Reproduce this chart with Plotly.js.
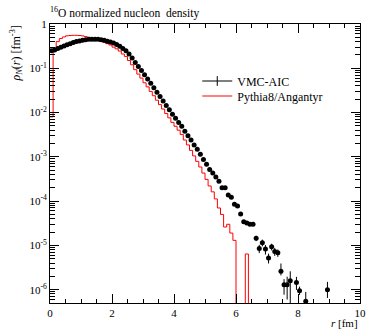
<!DOCTYPE html>
<html>
<head>
<meta charset="utf-8">
<script src="https://cdn.plot.ly/plotly-3.0.1.min.js"></script>
<style>html,body{margin:0;padding:0;background:#fff;}#plot{width:366px;height:331px;}</style>
</head>
<body>
<div id="plot"></div>
<script>
// VMC-AIC points: radius (fm), density (fm^-3), asymmetric errors
const rVMC = [0.05,0.15,0.25,0.35,0.45,0.55,0.65,0.75,0.85,0.95,
  1.05,1.15,1.25,1.35,1.45,1.55,1.65,1.75,1.85,1.95,
  2.05,2.15,2.25,2.35,2.45,2.55,2.65,2.75,2.85,2.95,
  3.05,3.15,3.25,3.35,3.45,3.55,3.65,3.75,3.85,3.95,
  4.05,4.15,4.25,4.35,4.45,4.55,4.65,4.75,4.85,4.95,
  5.05,5.15,5.25,5.35,5.45,5.55,5.65,5.75,5.85,5.95,
  6.05,6.15,6.25,6.35,6.45,6.55,6.65,6.75,6.85,6.95,
  7.05,7.15,7.25,7.35,7.45,7.55,7.65,7.75,7.95,8.05,8.25,8.95];
const rhoVMC = [0.25,0.26,0.28,0.30,0.32,0.34,0.36,0.38,0.40,0.415,
  0.43,0.44,0.45,0.455,0.455,0.45,0.44,0.43,0.41,0.39,
  0.37,0.345,0.315,0.28,0.25,0.21,0.17,0.135,0.11,0.089,
  0.071,0.0575,0.0457,0.0363,0.0288,0.0229,0.0182,0.0145,0.0115,0.0091,
  0.0074,0.0060,0.0049,0.0038,0.0030,0.0024,0.00186,0.00148,0.00115,0.00087,
  0.00068,0.00052,0.00043,0.00035,0.00028,0.00020,0.00020,0.000138,0.000123,0.000085,
  0.000078,0.000051,0.000034,0.000032,0.000030,0.000030,1.45e-5,8.5e-6,1.15e-5,8.3e-6,
  5.2e-6,9.3e-6,7.3e-6,6.8e-6,2.6e-6,1.3e-6,1.3e-6,1.6e-6,1.45e-6,9.5e-7,5.5e-7,1.0e-6];
const errUpVMC = [0,0,0,0,0,0,0,0,0,0, 0,0,0,0,0,0,0,0,0,0, 0,0,0,0,0,0,0,0,0,0,
  0,0,0,0,0,0,0,0,0,0, 0,0,0,0,0,0,0,0,0,0, 0,0,0,0,0,0,0,0,0,0,
  0,0,1e-6,1e-6,1e-6,1e-6,2e-6,1.8e-6,2e-6,1.9e-6,
  1.3e-6,1.6e-6,1.5e-6,1.3e-6,1.3e-6,0.43e-6,0.66e-6,1.0e-6,0.5e-6,0.22e-6,0.34e-6,0.5e-6];
const errDnVMC = [0,0,0,0,0,0,0,0,0,0, 0,0,0,0,0,0,0,0,0,0, 0,0,0,0,0,0,0,0,0,0,
  0,0,0,0,0,0,0,0,0,0, 0,0,0,0,0,0,0,0,0,0, 0,0,0,0,0,0,0,0,0,0,
  0,0,1e-6,1e-6,1e-6,1e-6,2e-6,1.8e-6,2e-6,2.1e-6,
  1.3e-6,1.6e-6,1.5e-6,1.3e-6,0.5e-6,0.53e-6,0.7e-6,1.1e-6,0.46e-6,0.19e-6,0.5e-6,0.35e-6];

// Pythia8/Angantyr histogram: bin width 0.1 fm starting at 0
const binWidth = 0.1;
const rhoPythia = [0.008,0.28,0.40,0.47,0.51,0.54,0.55,0.555,0.555,0.55,
  0.54,0.52,0.50,0.475,0.45,0.43,0.41,0.385,0.36,0.335,
  0.30,0.275,0.245,0.21,0.185,0.15,0.12,0.093,0.074,0.060,
  0.047,0.038,0.030,0.024,0.019,0.0151,0.012,0.0095,0.0076,0.0060,
  0.0049,0.0040,0.0032,0.0024,0.00186,0.0014,0.00105,0.00079,0.00059,0.00043,
  0.00031,0.00022,0.000162,0.000112,0.00007,0.00005,0.000026,0.000030,0.000019,0.000013,
  0,0,0,6.4e-6,0];

const xPy = rhoPythia.map((_, i) => i * binWidth);
xPy.push(rhoPythia.length * binWidth);
const yPy = rhoPythia.map(v => v > 0 ? v : 1e-12);
yPy.push(yPy[yPy.length - 1]);

const FONT = '"Liberation Serif", "Times New Roman", serif';

const traces = [
  {
    x: xPy, y: yPy, type: 'scatter', mode: 'lines',
    line: {shape: 'hv', color: '#ff0000', width: 1},
    name: 'Pythia8/Angantyr', showlegend: false, hoverinfo: 'skip'
  },
  {
    x: rVMC, y: rhoVMC, type: 'scatter', mode: 'markers',
    marker: {color: 'black', size: 5},
    error_y: {type: 'data', symmetric: false, array: errUpVMC, arrayminus: errDnVMC,
              color: 'black', thickness: 1, width: 0},
    name: 'VMC-AIC', showlegend: false
  },
  {
    x: [null], y: [null], type: 'scatter', mode: 'lines+markers',
    line: {color: 'black', width: 1},
    marker: {symbol: 'line-ns', size: 7, color: 'black', line: {color: 'black', width: 1}},
    name: 'VMC-AIC', legend: 'legend'
  },
  {
    x: [null], y: [null], type: 'scatter', mode: 'lines',
    line: {color: '#ff0000', width: 1},
    name: 'Pythia8/Angantyr', legend: 'legend2'
  }
];

const decades = [1e-6,1e-5,1e-4,1e-3,1e-2,1e-1,1];
const decadeLabels = ['10<sup>-6</sup>','10<sup>-5</sup>','10<sup>-4</sup>','10<sup>-3</sup>','10<sup>-2</sup>','10<sup>-1</sup>','1'];

const legendBase = {
  xanchor: 'left', yanchor: 'middle',
  bgcolor: 'rgba(0,0,0,0)', borderwidth: 0,
  font: {family: FONT, size: 12, color: 'black'},
  itemwidth: 30
};

const layout = {
  width: 366, height: 331,
  margin: {l: 50, r: 6, t: 24, b: 28, pad: 0},
  paper_bgcolor: 'white', plot_bgcolor: 'white',
  font: {family: FONT, size: 11, color: 'black'},
  title: {
    text: '<sup>16</sup>O normalized nucleon\u00a0 density',
    font: {family: FONT, size: 11.5, color: 'black'},
    x: 0, xanchor: 'left', xref: 'paper',
    y: 1 - 12.5/331, yanchor: 'middle'
  },
  xaxis: {
    range: [0, 10], dtick: 2, tick0: 0,
    ticks: 'inside', ticklen: 9, tickwidth: 1, tickcolor: 'black',
    minor: {dtick: 0.5, ticks: 'inside', ticklen: 4, tickwidth: 1, tickcolor: 'black'},
    showline: true, linecolor: 'black', linewidth: 1, mirror: 'ticks',
    showgrid: false, zeroline: false,
    tickfont: {family: FONT, size: 11, color: 'black'}
  },
  yaxis: {
    type: 'log', range: [Math.log10(5e-7), 0],
    tickmode: 'array', tickvals: decades, ticktext: decadeLabels,
    ticks: 'inside', ticklen: 9, tickwidth: 1, tickcolor: 'black',
    minor: {dtick: 'D1', ticks: 'inside', ticklen: 5, tickwidth: 1, tickcolor: 'black', showgrid: false},
    showline: true, linecolor: 'black', linewidth: 1, mirror: 'ticks',
    showgrid: false, zeroline: false,
    tickfont: {family: FONT, size: 11, color: 'black'}
  },
  legend: Object.assign({}, legendBase, {x: 0.475, y: 1 - (81 - 24) / 279}),
  legend2: Object.assign({}, legendBase, {x: 0.475, y: 1 - (96 - 24) / 279}),
  annotations: [
    {
      text: '<i>r</i> [fm]', xref: 'paper', yref: 'paper',
      x: 1, y: 0, xanchor: 'right', yanchor: 'bottom', yshift: -28,
      showarrow: false, font: {family: FONT, size: 11, color: 'black'}
    },
    {
      text: '<i>ρ<sub>N</sub></i>(<i>r</i>) [fm<sup>-3</sup>]', xref: 'paper', yref: 'paper',
      x: 0, y: 1, xanchor: 'right', yanchor: 'top', xshift: -24,
      textangle: -90, showarrow: false, font: {family: FONT, size: 12, color: 'black'}
    }
  ],
  showlegend: true
};

Plotly.newPlot('plot', traces, layout, {staticPlot: true, displayModeBar: false});
</script>
</body>
</html>
